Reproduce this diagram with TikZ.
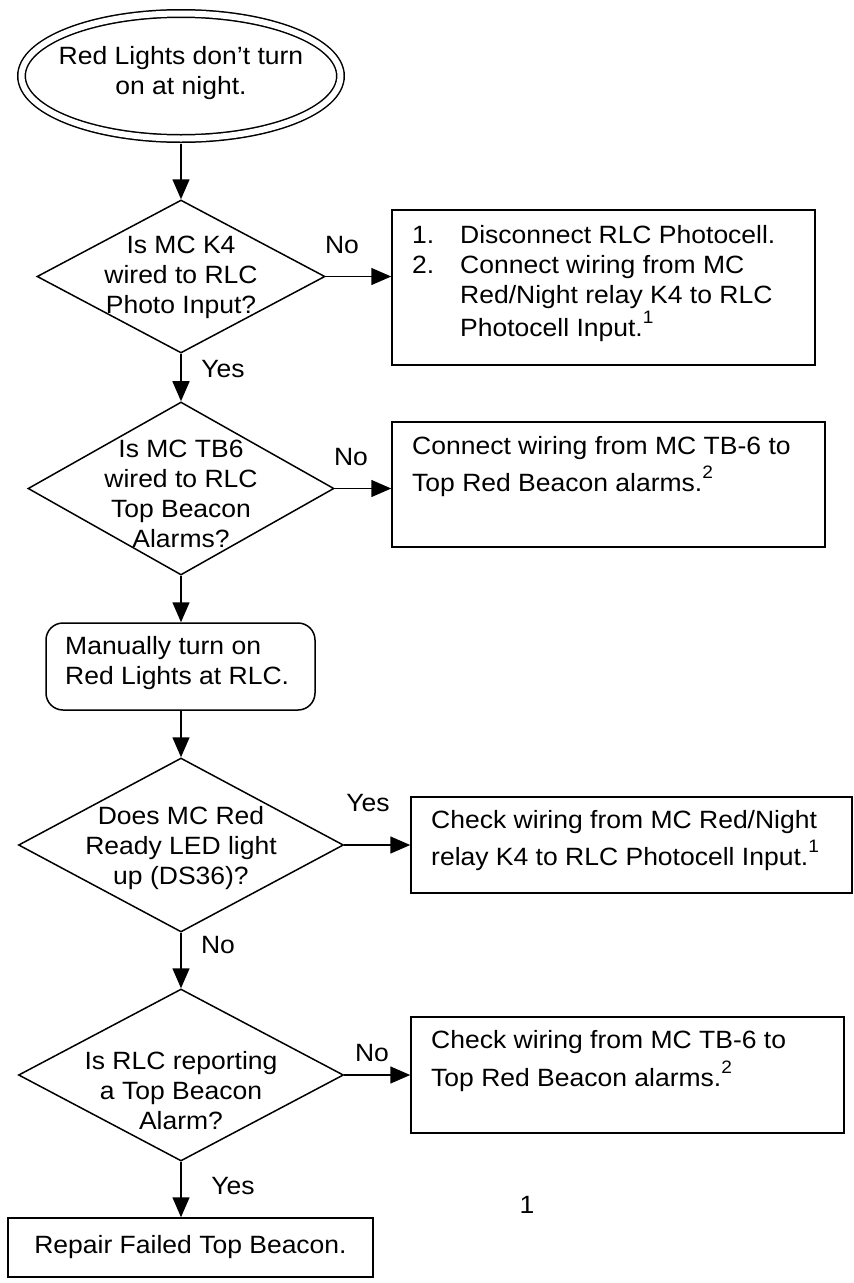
\documentclass[tikz,border=0pt]{standalone}
\usepackage{fontspec}
\setmainfont{Liberation Sans}[FakeStretch=1.06]
\usetikzlibrary{arrows.meta,shapes.geometric}
\newcommand{\fnmark}[1]{\raisebox{13pt}{\fontsize{18}{18}\selectfont #1}}
\begin{document}
\begin{tikzpicture}[x=1pt,y=-1pt,
  every node/.style={inner sep=0pt, font=\fontsize{25}{30}\selectfont},
  shp/.style={draw, line width=1.5pt},
  txt/.style={align=center},
  ltxt/.style={anchor=west, align=left},
  arr/.style={line width=1.5pt, -{Triangle[length=20pt,width=17pt]}}]
\useasboundingbox (0,0) rectangle (854,1283);

% shapes
\node[shp, ellipse, double, double distance=6pt, minimum width=319pt, minimum height=125pt] (start) at (181,76) {};
\node[txt] (startt) at (181,73.5) {Red Lights don’t turn\\on at night.};

\node[shp, diamond, minimum width=288pt, minimum height=153pt] (d1) at (181,276.5) {};
\node[txt] (d1t) at (181,277) {Is MC K4\\wired to RLC\\Photo Input?};

\node[shp, minimum width=423pt, minimum height=155pt] (b1) at (603.5,287.5) {};
\node[ltxt] (b1t) at (412,283.5) {\makebox[48pt][l]{1.}Disconnect RLC Photocell.\\\makebox[48pt][l]{2.}Connect wiring from MC\\\hspace*{48pt}Red/Night relay K4 to RLC\\[2pt]\hspace*{48pt}Photocell Input.\fnmark{1}};

\node[shp, diamond, minimum width=306pt, minimum height=173pt] (d2) at (181,488.5) {};
\node[txt] (d2t) at (181,494) {Is MC TB6\\wired to RLC\\Top Beacon\\Alarms?};

\node[shp, minimum width=433pt, minimum height=125pt] (b2) at (608.5,484.5) {};
\node[ltxt] (b2t) at (412,466.5) {Connect wiring from MC TB-6 to\\[6pt]Top Red Beacon alarms.\fnmark{2}};

\node[shp, rounded corners=17pt, minimum width=269pt, minimum height=87pt] (rb) at (180.5,666.5) {};
\node[ltxt] (rbt) at (65,663) {Manually turn on\\Red Lights at RLC.};

\node[shp, diamond, minimum width=325pt, minimum height=174pt] (d3) at (181,845) {};
\node[txt] (d3t) at (181,848) {Does MC Red\\Ready LED light\\up (DS36)?};

\node[shp, minimum width=441pt, minimum height=96pt] (b3) at (631.5,845) {};
\node[ltxt] (b3t) at (431,840.5) {Check wiring from MC Red/Night\\[5pt]relay K4 to RLC Photocell Input.\fnmark{1}};

\node[shp, diamond, minimum width=325pt, minimum height=172pt] (d4) at (181,1075) {};
\node[txt] (d4t) at (181,1091) {Is RLC reporting\\a Top Beacon\\Alarm?};

\node[shp, minimum width=433pt, minimum height=116pt] (b4) at (627.5,1075) {};
\node[ltxt] (b4t) at (431,1061) {Check wiring from MC TB-6 to\\[6pt]Top Red Beacon alarms.\fnmark{2}};

\node[shp, minimum width=365pt, minimum height=59pt] (fb) at (190.5,1247.5) {Repair Failed Top Beacon.};

% labels
\node (l1) at (342,245) {No};
\node (l2) at (223,369) {Yes};
\node (l3) at (351,457) {No};
\node (l4) at (368,803) {Yes};
\node (l5) at (218,945) {No};
\node (l6) at (372,1053) {No};
\node (l7) at (233,1186) {Yes};
\node (pg) at (527,1205) {1};

% connectors
\draw[arr, shorten <=4.6pt] (start) -- (d1);
\draw[arr] (d1.east) -- (d1.east -| b1.west);
\draw[arr] (d1) -- (d2);
\draw[arr] (d2.east) -- (d2.east -| b2.west);
\draw[arr] (d2) -- (d2 |- rb.north);
\draw[arr] (rb.south -| d3) -- (d3);
\draw[arr] (d3.east) -- (d3.east -| b3.west);
\draw[arr] (d3) -- (d4);
\draw[arr] (d4.east) -- (d4.east -| b4.west);
\draw[arr] (d4) -- (d4 |- fb.north);
\end{tikzpicture}
\end{document}
